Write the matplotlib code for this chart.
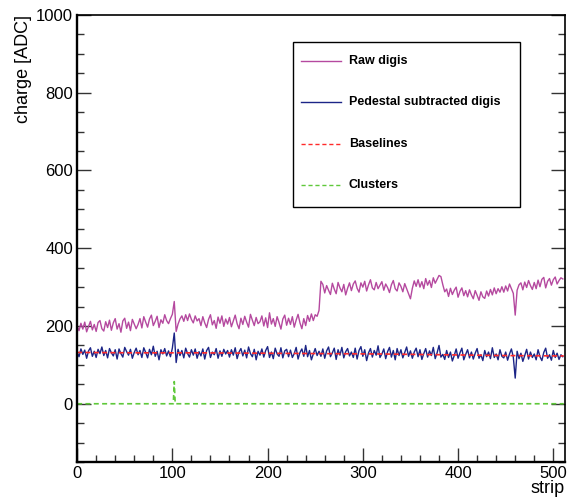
import numpy as np
import matplotlib
matplotlib.use("Agg")
import matplotlib.pyplot as plt
from matplotlib.lines import Line2D
from matplotlib.patches import Rectangle
from matplotlib.ticker import MultipleLocator

plt.rcParams["font.family"] = ["Liberation Sans", "DejaVu Sans"]

# strips sampled every 2 channels
strips = np.arange(0, 512, 2)

raw_digis = [
    200, 188, 207, 192, 210, 185, 199, 212, 190, 204, 186, 209, 214, 193, 187, 211,
    196, 215, 189, 208, 219, 192, 206, 184, 213, 220, 194, 210, 188, 217, 205, 193,
    204, 219, 195, 224, 210, 197, 218, 228, 201, 212, 225, 196, 216, 207, 229, 214,
    206, 219, 230, 263, 186, 205, 218, 226, 212, 229, 214, 231, 217, 208, 226, 213,
    219, 201, 224, 208, 196, 217, 229, 203, 214, 194, 223, 207, 226, 199, 218, 205,
    222, 198, 213, 228, 206, 193, 220, 204, 225, 210, 197, 230, 215, 201, 222, 206,
    211, 226, 200, 221, 196, 234, 205, 219, 199, 224, 209, 192, 218, 228, 202, 220,
    204, 224, 197, 215, 230, 208, 193, 219, 201, 227, 212, 231, 214, 229, 225, 240,
    315, 307, 285, 304, 292, 281, 310, 295, 283, 312, 298, 288, 307, 280, 297, 311,
    291, 308, 316, 297, 287, 311, 300, 315, 290, 306, 319, 298, 293, 312, 296, 305,
    314, 292, 308, 299, 286, 306, 317, 296, 290, 311, 302, 288, 309, 296, 283, 270,
    297, 316, 302, 319, 300, 314, 296, 322, 305, 317, 299, 324, 310, 320, 330, 327,
    306, 288, 295, 276, 297, 281, 292, 300, 274, 289, 298, 278, 291, 275, 293, 280,
    270, 291, 279, 266, 288, 275, 271, 290, 277, 294, 280, 298, 283, 296, 287, 301,
    287, 303, 290, 308, 296, 284, 228, 292, 306, 311, 293, 313, 299, 317, 304, 294,
    312, 296, 318, 301, 320, 325, 298, 315, 322, 305, 319, 326, 308, 317, 324, 321,
]

ped_subtracted = [
    133, 121, 141, 127, 138, 117, 136, 144, 122, 135, 119, 140, 129, 146, 124, 137,
    118, 142, 131, 123, 139, 115, 141, 129, 120, 145, 134, 125, 140, 117, 132, 143,
    126, 137, 119, 144, 132, 118, 140, 126, 148, 122, 135, 113, 139, 128, 142, 123,
    136, 121, 143, 182, 106, 140, 124, 137, 118, 143, 129, 120, 139, 125, 141, 117,
    134, 123, 141, 115, 137, 145, 119, 133, 126, 142, 117, 136, 122, 140, 128, 137,
    120, 139, 125, 144, 116, 133, 142, 123, 138, 118, 146, 129, 121, 140, 113, 135,
    125, 141, 120, 137, 147, 119, 133, 116, 143, 128, 122, 144, 118, 136, 140, 121,
    138, 119, 129, 145, 115, 132, 141, 122, 150, 121, 137, 113, 128, 142, 124, 135,
    122, 141, 117, 136, 146, 121, 131, 143, 114, 139, 125, 145, 118, 134, 142, 123,
    133, 119, 143, 115, 137, 147, 122, 139, 111, 131, 142, 120, 137, 125, 149, 119,
    128, 141, 116, 134, 145, 120, 137, 113, 142, 124, 139, 118, 132, 146, 122, 136,
    117, 133, 143, 121, 139, 114, 129, 142, 120, 136, 124, 145, 116, 131, 150, 120,
    127, 114, 137, 119, 133, 110, 124, 141, 117, 131, 143, 113, 127, 139, 118, 133,
    115, 130, 142, 117, 126, 111, 137, 121, 133, 116, 144, 119, 128, 113, 139, 122,
    118, 133, 112, 128, 141, 120, 66, 135, 116, 130, 109, 124, 140, 115, 133, 119,
    128, 113, 139, 121, 111, 132, 143, 117, 126, 112, 137, 119, 130, 114, 126, 121,
]

baseline_strips = [0, 64, 128, 192, 256, 320, 384, 448, 511]
baselines = [132, 131, 131, 130, 129, 128, 126, 124, 123]

cluster_strips = [0, 101, 102, 103, 511]
clusters = [0, 0, 57, 0, 0]

labels = ["Raw digis", "Pedestal subtracted digis", "Baselines", "Clusters"]
colors = ["#b5499f", "#1c2587", "#ff2a2a", "#5fc83a"]
dashed = (0, (3, 2))
styles = ["-", "-", dashed, dashed]
widths = [1.0, 1.0, 1.2, 1.2]

fig = plt.figure(figsize=(5.67, 4.99), dpi=100)
ax = fig.add_axes([0.136, 0.074, 0.860, 0.896])

series = [(strips, raw_digis), (strips, ped_subtracted),
          (baseline_strips, baselines), (cluster_strips, clusters)]
for (x, y), c, ls, lw in zip(series, colors, styles, widths):
    ax.plot(x, y, color=c, ls=ls, lw=lw)

ax.set_xlim(0, 512)
ax.set_ylim(-150, 1000)

ax.xaxis.set_major_locator(MultipleLocator(100))
ax.xaxis.set_minor_locator(MultipleLocator(20))
ax.yaxis.set_major_locator(MultipleLocator(200))
ax.yaxis.set_minor_locator(MultipleLocator(50))
ax.tick_params(which="both", direction="in", labelsize=12, width=1.0, color="#333333",
               right=True, top=False)
ax.tick_params(which="major", length=10, pad=3)
ax.tick_params(which="minor", length=5)
for s in ax.spines.values():
    s.set_linewidth(1.2)
ax.spines["left"].set_linewidth(1.7)
ax.spines["bottom"].set_linewidth(1.7)

ax.set_ylabel("charge [ADC]", fontsize=13, loc="top")
ax.yaxis.set_label_coords(-0.093, 1.0)
ax.set_xlabel("strip", fontsize=13, loc="right")
ax.xaxis.set_label_coords(1.0, -0.040)

# ROOT-style legend box
ax.add_patch(Rectangle((0.443, 0.570), 0.465, 0.370, transform=ax.transAxes,
                       facecolor="white", edgecolor="black", lw=1.0, zorder=5))
rows_y = [0.897, 0.805, 0.711, 0.620]
for yy, lab, c, ls in zip(rows_y, labels, colors, styles):
    ax.add_line(Line2D([0.459, 0.541], [yy, yy], transform=ax.transAxes,
                       color=c, ls=ls, lw=1.0, zorder=6))
    ax.text(0.557, yy, lab, transform=ax.transAxes, fontsize=9, fontweight="bold",
            va="center", ha="left", zorder=6)

fig.savefig("out.png", dpi=100)
